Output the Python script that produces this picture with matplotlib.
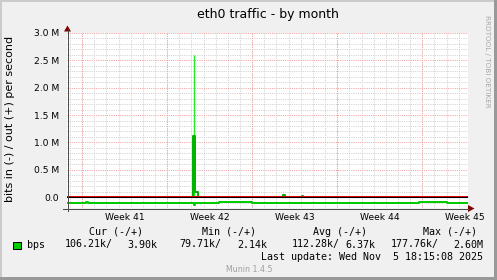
import matplotlib
matplotlib.use("Agg")
import matplotlib.pyplot as plt
import matplotlib.dates as mdates
import matplotlib.transforms as mtransforms
from matplotlib.patches import Rectangle, Polygon
from matplotlib.lines import Line2D
from datetime import datetime, timedelta

# ---------------- data ----------------
END = datetime(2025, 11, 5, 18, 15, 8)
START = END - timedelta(days=33)

# sample times (days since START), in (-) and out (+) traffic in kbit/s
t_days = [0, 1.6, 1.7, 8.2, 8.6, 9.5, 10.41, 10.46, 10.50, 10.56, 10.64, 10.81,
          11.5, 12.5, 15.2, 15.5, 17.8, 17.9, 19.3, 19.4, 23.5, 23.8,
          27.2, 27.5, 29.0, 31.3, 31.8, 33]
in_k = [100, 90, 100, 108, 100, 104, 104, 150, 104, 104, 104, 104,
        100, 97, 115, 100, 100, 100, 100, 100, 112, 100,
        112, 100, 98, 115, 100, 100]
out_k = [4, 4, 4, 4, 4, 4, 1120, 1120, 1120, 90, 90, 4,
         4, 4, 4, 4, 40, 4, 20, 4, 4, 4,
         4, 4, 4, 4, 4, 4]
# peak sample of out (max)
t_max = [10.48]
out_max_k = [2600]

week_labels = ["Week 41", "Week 42", "Week 43", "Week 44", "Week 45"]
y_ticks = [0, 0.5e6, 1.0e6, 1.5e6, 2.0e6, 2.5e6, 3.0e6]
y_labels = ["0.0", "0.5 M", "1.0 M", "1.5 M", "2.0 M", "2.5 M", "3.0 M"]

legend_header = ["Cur (-/+)", "Min (-/+)", "Avg (-/+)", "Max (-/+)"]
legend_values = ["106.21k/", "3.90k", "79.71k/", "2.14k",
                 "112.28k/", "6.37k", "177.76k/", "2.60M"]

# ---------------- figure ----------------
W, H = 497, 280
fig = plt.figure(figsize=(W / 100, H / 100), dpi=100, facecolor="#F0F0F0")


def fx(x):
    return x / W


def fy(y):
    return 1 - y / H


# 3D-ish border
fig.add_artist(Rectangle((0, 0), fx(2), 1, transform=fig.transFigure, color="#CBCBCB", lw=0))
fig.add_artist(Rectangle((0, fy(2)), 1, 2 / H, transform=fig.transFigure, color="#CBCBCB", lw=0))
fig.add_artist(Rectangle((0, 0), 1, 3 / H, transform=fig.transFigure, color="#999999", lw=0))
fig.add_artist(Rectangle((fx(494), 0), 3 / W, 1, transform=fig.transFigure, color="#999999", lw=0))

L, R, T, B = 67, 468, 33, 208
ax = fig.add_axes([fx(L), fy(B), (R - L) / W, (B - T) / H])
ax.set_facecolor("white")
for s in ax.spines.values():
    s.set_visible(False)

x0 = mdates.date2num(START)
x1 = mdates.date2num(END)
ax.set_xlim(x0, x1)
ax.set_ylim(-0.2e6, 3.0e6)

# grid
px = 0.72
dot = (0, (1, 1.2))
days = mdates.DayLocator().tick_values(START, END)
sundays = mdates.WeekdayLocator(byweekday=mdates.SU).tick_values(START, END)
for d in days:
    if x0 < d < x1:
        ax.axvline(d, color="#D0D0D0", lw=px, ls=dot, zorder=1)
for v in [i * 0.1e6 for i in range(-1, 31)]:
    if abs(v / 0.5e6 - round(v / 0.5e6)) > 1e-6:
        ax.axhline(v, color="#D0D0D0", lw=px, ls=dot, zorder=1)
for d in sundays:
    if x0 < d < x1:
        ax.axvline(d, color="#F0A0A0", lw=px, ls=dot, zorder=1.1)
for v in y_ticks:
    ax.axhline(v, color="#F0A0A0", lw=px, ls=dot, zorder=1.1)

# data
tx = [x0 + d for d in t_days]
ax.step(tx, [-v * 1000 for v in in_k], where="post", color="#00CC00", lw=2 * px, zorder=3)
ax.vlines([x0 + d for d in t_max], 0, [v * 1000 for v in out_max_k], color="#22EE22",
          lw=1.3 * px, zorder=2)
ax.step(tx, [v * 1000 for v in out_k], where="post", color="#00B400", lw=2 * px, zorder=3)

# zero rules
ax.axhline(0, color="black", lw=px * 1.1, zorder=5)
off = mtransforms.offset_copy(ax.transData, fig=fig, x=0, y=1.0, units="dots")
ax.plot([x0, x1], [0, 0], color="#E00000", lw=px, transform=off, zorder=5)

# ticks / labels
label_pos = [s + 3.5 for s in sundays if x0 < s + 3.5 < x1 + 0.5]
ax.set_xticks(label_pos[: len(week_labels)], week_labels)
ax.set_yticks(y_ticks, y_labels)
ax.tick_params(axis="both", length=0, labelsize=6.6, colors="black")
ax.tick_params(axis="x", pad=3.6)
ax.tick_params(axis="y", pad=5.6)

# axis lines with arrows
axis_col = "#4A4A4A"
fig.add_artist(Line2D([fx(67.5), fx(67.5)], [fy(211), fy(30)], color=axis_col, lw=px,
                      transform=fig.transFigure))
fig.add_artist(Line2D([fx(63), fx(469)], [fy(208.5), fy(208.5)], color=axis_col, lw=px,
                      transform=fig.transFigure))
fig.add_artist(Polygon([(fx(64), fy(31.5)), (fx(71), fy(31.5)), (fx(67.5), fy(25.5))],
                       closed=True, transform=fig.transFigure, color="#7F0000", lw=0))
fig.add_artist(Polygon([(fx(468), fy(205)), (fx(468), fy(212)), (fx(474.5), fy(208.5))],
                       closed=True, transform=fig.transFigure, color="#7F0000", lw=0))

# texts
fig.text(fx(267.5), fy(18), "eth0 traffic - by month", ha="center", va="baseline",
         fontsize=9, family="DejaVu Sans")
fig.text(fx(10.5), fy(119), "bits in (-) / out (+) per second", rotation=90,
         ha="center", va="center", fontsize=8, family="DejaVu Sans")
fig.text(fx(487.5), fy(61.5), "RRDTOOL / TOBI OETIKER", rotation=270, ha="center",
         va="center", fontsize=5.2, color="#A8A8A8", family="DejaVu Sans")

mono = "DejaVu Sans Mono"
fs = 7.2
for xh, s in zip([89, 202, 313, 423], legend_header):
    fig.text(fx(xh), fy(235), s, ha="left", va="baseline", fontsize=fs, family=mono)

fig.add_artist(Rectangle((fx(13), fy(248.5)), 8 / W, 7 / H, transform=fig.transFigure,
                         facecolor="#00CC00", edgecolor="black", lw=px))
fig.text(fx(27), fy(247.5), "bps", ha="left", va="baseline", fontsize=fs, family=mono)
right_edges = [113, 157, 221, 267, 340, 375, 439, 483]
for xr, s in zip(right_edges, legend_values):
    fig.text(fx(xr), fy(247.5), s, ha="right", va="baseline", fontsize=fs, family=mono)

fig.text(fx(483), fy(260), "Last update: Wed Nov  5 18:15:08 2025", ha="right",
         va="baseline", fontsize=fs, family=mono)
fig.text(fx(272), fy(271.5), "Munin 1.4.5", ha="right", va="baseline", fontsize=5.7,
         color="#A0A0A0", family="DejaVu Sans")

fig.savefig("out.png", dpi=100, facecolor=fig.get_facecolor())
